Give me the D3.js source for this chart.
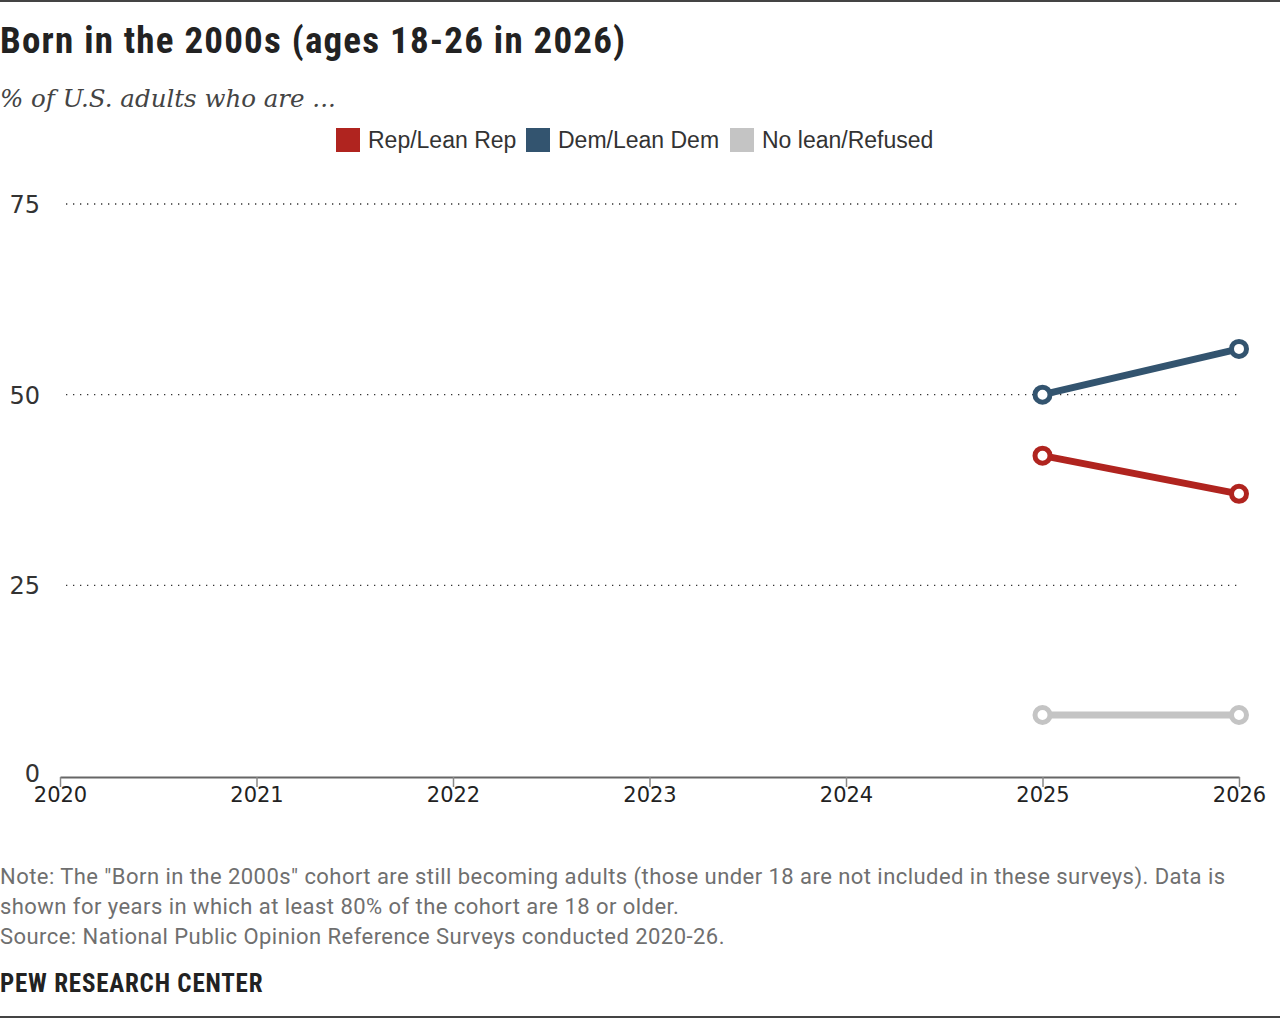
<!DOCTYPE html>
<html>
<head>
<meta charset="utf-8">
<script src="https://cdn.jsdelivr.net/npm/d3@7"></script>
<style>
  body { margin: 0; background: #fff; }
  svg { display: block; }
</style>
</head>
<body>
<div id="chart"></div>
<script>
const years = [2020, 2021, 2022, 2023, 2024, 2025, 2026];
const yTicks = [0, 25, 50, 75];
const seriesNames = ["Rep/Lean Rep", "Dem/Lean Dem", "No lean/Refused"];
const seriesColors = ["#b0241f", "#33546f", "#c4c4c4"];
const dataYears = [2025, 2026];
const repValues = [42, 37];
const demValues = [50, 56];
const noLeanValues = [8, 8];

const W = 1280, H = 1018;
const condensed = "'Liberation Sans Narrow', 'Roboto Condensed', 'Arial Narrow', sans-serif";
const plain = "'Liberation Sans', Arial, sans-serif";
const wide = "'DejaVu Sans', sans-serif";

const svg = d3.select('#chart').append('svg')
    .attr('width', W).attr('height', H);

// frame rules
svg.append('rect').attr('x', 0).attr('y', 0).attr('width', W).attr('height', 2).attr('fill', '#444');
svg.append('rect').attr('x', 0).attr('y', H - 2).attr('width', W).attr('height', 2).attr('fill', '#444');

svg.append('text').attr('x', 0).attr('y', 53)
    .style('font-family', condensed).style('font-weight', 'bold').style('font-size', '37px')
    .style('letter-spacing', '1.2px').attr('fill', '#222')
    .text('Born in the 2000s (ages 18-26 in 2026)');

svg.append('text').attr('x', 0).attr('y', 107)
    .style('font-family', "Georgia, 'DejaVu Serif', serif").style('font-style', 'italic').style('font-size', '24.5px').attr('fill', '#444')
    .text('% of U.S. adults who are ...');

// legend
const legendX = [336, 526, 730];
const legend = svg.append('g');
seriesNames.forEach((name, i) => {
    legend.append('rect').attr('x', legendX[i]).attr('y', 128).attr('width', 24).attr('height', 24).attr('fill', seriesColors[i]);
    legend.append('text').attr('x', legendX[i] + 32).attr('y', 148)
        .style('font-family', plain).style('font-size', '23px').attr('fill', '#333').text(name);
});

const x = d3.scaleLinear().domain([2020, 2026]).range([60, 1239]);
const y = d3.scaleLinear().domain([0, 75]).range([776, 204]);

// gridlines
svg.append('g').selectAll('line').data(yTicks.filter(d => d > 0)).join('line')
    .attr('x1', 66).attr('x2', 1239)
    .attr('y1', d => y(d)).attr('y2', d => y(d))
    .attr('stroke', '#333').attr('stroke-width', 1.3).attr('stroke-dasharray', '1.3,5.7');

// y labels
svg.append('g').selectAll('text').data(yTicks).join('text')
    .attr('x', 40).attr('y', d => y(d) + (d === 0 ? 6 : 9))
    .attr('text-anchor', 'end')
    .style('font-family', wide).style('font-size', '24px').attr('fill', '#333')
    .text(d => d);

// x axis
const xAxis = svg.append('g').attr('transform', 'translate(0,777)')
    .call(d3.axisBottom(x).tickValues(years).tickFormat(d3.format('d')).tickSize(10).tickSizeOuter(0));
xAxis.select('.domain').attr('stroke', '#666').attr('stroke-width', 2);
xAxis.selectAll('.tick line').attr('stroke', '#888').attr('stroke-width', 1.5);
xAxis.selectAll('.tick text').attr('y', 25).attr('dy', null)
    .style('font-family', wide).style('font-size', '21px').attr('fill', '#222');

// series
const seriesValues = [repValues, demValues, noLeanValues];
const line = d3.line().x(d => x(d.year)).y(d => y(d.value));
const drawOrder = [2, 0, 1];
drawOrder.forEach(i => {
    const pts = dataYears.map((yr, j) => ({ year: yr, value: seriesValues[i][j] }));
    svg.append('path').datum(pts).attr('d', line)
        .attr('fill', 'none').attr('stroke', seriesColors[i]).attr('stroke-width', 7).attr('stroke-linecap', 'round');
    svg.append('g').selectAll('circle').data(pts).join('circle')
        .attr('cx', d => x(d.year)).attr('cy', d => y(d.value)).attr('r', 7.5)
        .attr('fill', '#fff').attr('stroke', seriesColors[i]).attr('stroke-width', 5);
});

// notes
const notes = [
    'Note: The "Born in the 2000s" cohort are still becoming adults (those under 18 are not included in these surveys). Data is',
    'shown for years in which at least 80% of the cohort are 18 or older.',
    'Source: National Public Opinion Reference Surveys conducted 2020-26.'
];
svg.append('g').selectAll('text').data(notes).join('text')
    .attr('x', 0).attr('y', (d, i) => 884 + i * 30)
    .style('font-family', "Roboto, sans-serif").style('font-size', '22px')
    .style('letter-spacing', '0.45px').attr('fill', '#6f6f6f')
    .text(d => d);

svg.append('text').attr('x', 0).attr('y', 992)
    .style('font-family', condensed).style('font-weight', 'bold').style('font-size', '25px')
    .style('letter-spacing', '0.8px').attr('fill', '#222')
    .text('PEW RESEARCH CENTER');
</script>
</body>
</html>
